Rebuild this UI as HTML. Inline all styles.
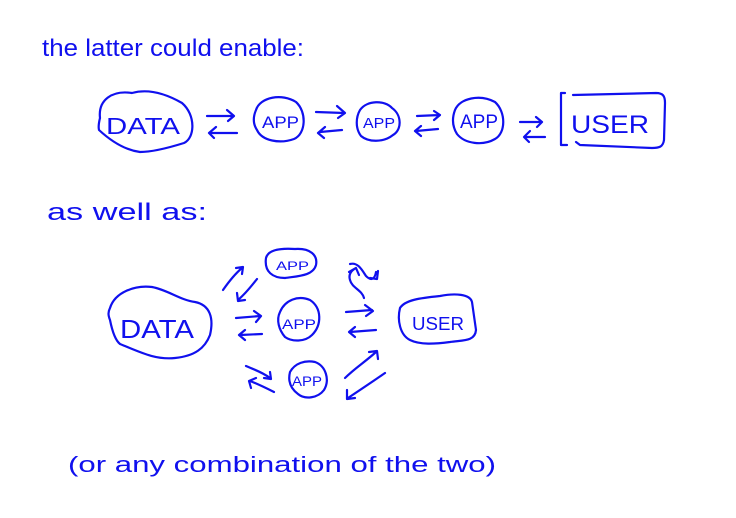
<!DOCTYPE html>
<html><head><meta charset="utf-8"><style>
html,body{margin:0;padding:0;background:#fff;}
svg{display:block;}
text{font-family:"Liberation Sans",sans-serif;fill:#1010ee;}
</style></head><body>
<svg width="736" height="518" viewBox="0 0 736 518" xmlns="http://www.w3.org/2000/svg">
<g fill="none" stroke="#1010ee" stroke-width="2.2" stroke-linecap="round" stroke-linejoin="round">
<!-- top row -->
<path d="M100,118 C98,100 112,90 132,93 C150,88 168,95 182,103 C196,115 195,138 184,143 C168,148 152,152 140,152 C125,150 112,142 99,130 C98,126 99,122 100,118 Z"/>
<path d="M207,116 L233,116 M227,110 L234,116 L228,121"/>
<path d="M237,133 L210,133 M216,127 L209,133 L214,138"/>
<path d="M256,110 C260,97 282,93 296,102 C307,112 306,134 294,139 C280,144 262,141 257,130 C253,124 253,117 256,110 Z"/>
<path d="M316,112 L344,113 M337,106 L345,113 L338,118"/>
<path d="M342,130 L320,132 M325,127 L318,133 L324,138"/>
<path d="M360,110 C367,100 385,100 392,108 C402,115 402,130 393,135 C383,143 368,142 361,136 C355,128 356,117 360,110 Z"/>
<path d="M417,116 L440,115 M434,111 L440,115 L434,120"/>
<path d="M438,129 L416,131 M421,126 L415,131 L421,136"/>
<path d="M455,110 C460,98 480,94 495,102 C506,112 506,133 495,139 C483,146 465,144 457,134 C452,126 452,118 455,110 Z"/>
<path d="M520,122 L542,122 M536,117 L542,122 L537,127"/>
<path d="M545,137 L525,137 M530,131 L524,137 L529,142"/>
<path d="M565,93 L561,93 L561,145 L567,145 M573,95 L656,93 C663,93 665,96 665,103 L664,140 C663,147 659,148 652,148 L580,145 L576,142"/>
<!-- bottom -->
<path d="M110,308 C115,292 135,285 152,287 C168,290 180,300 195,302 C210,305 214,318 210,335 C205,348 195,356 175,358 C155,360 140,352 120,344 C115,340 112,330 110,320 C108,315 108,312 110,308 Z"/>
<path d="M266,258 C268,250 280,248 295,249 C310,248 318,255 316,265 C313,276 298,276 285,278 C273,278 264,272 266,258 Z"/>
<path d="M280,312 C285,300 298,295 310,300 C322,308 322,325 312,335 C305,342 292,342 285,337 C279,330 276,320 280,312 Z"/>
<path d="M290,372 C295,363 305,360 315,362 C326,366 330,380 324,390 C318,398 305,400 298,394 C290,388 288,380 290,372 Z"/>
<path d="M400,308 C405,300 420,298 440,296 C455,293 470,294 472,302 L476,330 C475,342 462,340 450,342 C435,344 420,345 410,340 C400,335 397,320 400,308 Z"/>
<path d="M236,318 L260,316 M254,311 L261,316 L256,322"/>
<path d="M262,334 L240,335 M245,330 L239,335 L245,340"/>
<path d="M346,312 L372,310 M365,305 L373,311 L366,316"/>
<path d="M376,330 L350,332 M355,327 L349,332 L355,337"/>
<path d="M223,290 C230,280 236,273 242,268 M236,268 L243,267 L242,274"/>
<path d="M257,279 C250,288 244,295 238,300 M237,293 L238,301 L245,300"/>
<path d="M246,366 C255,370 262,372 270,378 M264,378 L271,379 L270,372"/>
<path d="M274,392 C266,388 258,384 250,381 M251,388 L249,381 L256,378"/>
<path d="M364,298 C362,290 352,288 350,280 C348,274 352,270 356,268 M349,272 L356,268 L359,275"/>
<path d="M350,264 C358,262 362,270 366,276 C372,282 375,278 376,272 M370,278 L377,279 L378,271"/>
<path d="M345,378 C355,368 365,362 376,352 M369,352 L377,351 L378,359"/>
<path d="M385,373 C372,382 360,390 348,398 M347,390 L347,399 L355,398"/>
</g>
<text x="106" y="134" font-size="23" textLength="74" lengthAdjust="spacingAndGlyphs">DATA</text>
<text x="262" y="128" font-size="17" textLength="37" lengthAdjust="spacingAndGlyphs">APP</text>
<text x="363" y="128" font-size="15" textLength="32" lengthAdjust="spacingAndGlyphs">APP</text>
<text x="460" y="128" font-size="19" textLength="38" lengthAdjust="spacingAndGlyphs">APP</text>
<text x="571" y="133" font-size="25" textLength="78" lengthAdjust="spacingAndGlyphs">USER</text>
<text x="120" y="338" font-size="26" textLength="74" lengthAdjust="spacingAndGlyphs">DATA</text>
<text x="276" y="270" font-size="12" textLength="33" lengthAdjust="spacingAndGlyphs">APP</text>
<text x="282" y="329" font-size="14" textLength="34" lengthAdjust="spacingAndGlyphs">APP</text>
<text x="292" y="386" font-size="14" textLength="30" lengthAdjust="spacingAndGlyphs">APP</text>
<text x="412" y="330" font-size="18" textLength="52" lengthAdjust="spacingAndGlyphs">USER</text>
<text x="42" y="56" font-size="24" textLength="262" lengthAdjust="spacingAndGlyphs">the latter could enable:</text>
<text x="47" y="220" font-size="24" textLength="160" lengthAdjust="spacingAndGlyphs">as well as:</text>
<text x="68" y="472" font-size="22" textLength="428" lengthAdjust="spacingAndGlyphs">(or any combination of the two)</text>
</svg>
</body></html>
